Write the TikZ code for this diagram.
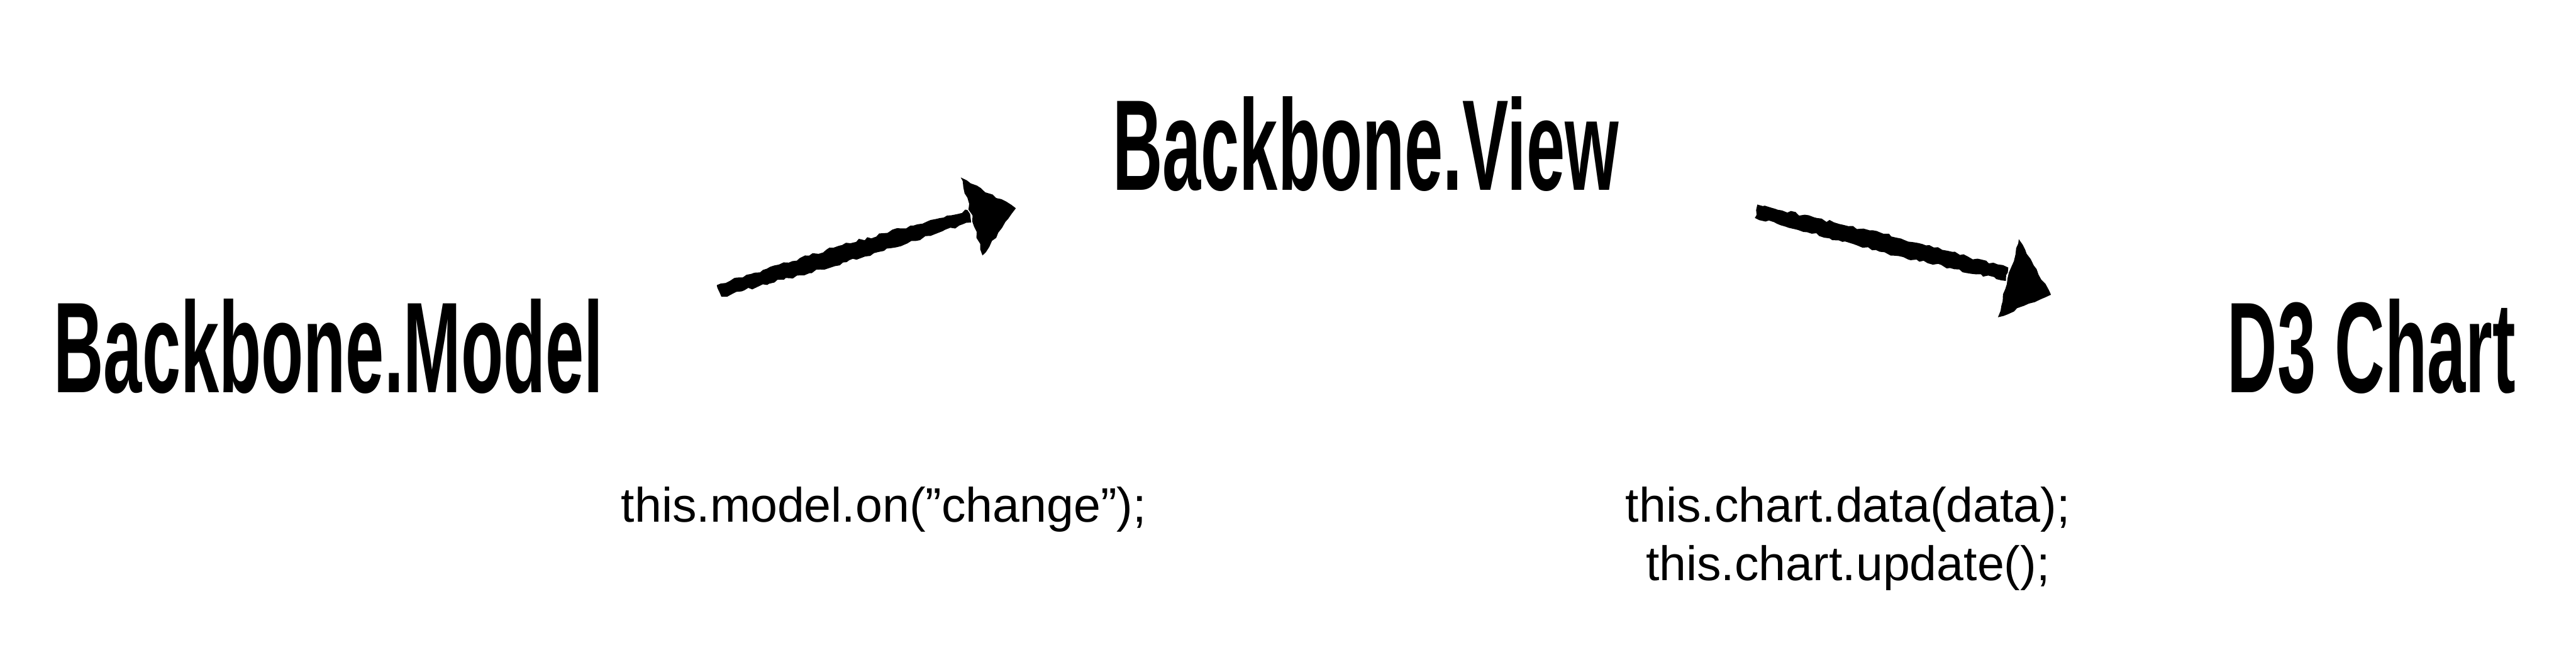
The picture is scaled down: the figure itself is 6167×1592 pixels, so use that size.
\documentclass[tikz,border=0pt]{standalone}
\usepackage{fontspec}
\setmainfont{Liberation Sans}
\newfontfamily\headfont{Liberation Sans}[FakeStretch=0.535]
\usetikzlibrary{decorations.pathmorphing}
\tikzset{
  heading/.style={inner sep=0pt, anchor=base west, font=\headfont\bfseries\fontsize{88}{100}\selectfont},
  codetext/.style={inner sep=0pt, anchor=base, font=\fontsize{33}{40}\selectfont},
  chalk/.style={fill=black, decorate, decoration={random steps, segment length=3pt, amplitude=1pt}},
  chalkhead/.style={fill=black, decorate, decoration={random steps, segment length=4pt, amplitude=0.8pt}}
}
\begin{document}
\begin{tikzpicture}[x=0.01cm, y=-0.01cm]
\pgfmathsetseed{7}
\useasboundingbox (0,0) rectangle (6167,1592);
\fill[white] (0,0) rectangle (6167,1592);
% headings
\node[heading] (model) at (128,940) {Backbone.Model};
\node[heading] (view) at (2663,455) {Backbone.View};
\node[heading] (chart) at (5332,940) {D3 Chart};
% code labels
\node[codetext] (code1) at (2116,1250) {this.model.on(”change”);};
\node[codetext] (code2a) at (4424,1250) {this.chart.data(data);};
\node[codetext] (code2b) at (4424,1390) {this.chart.update();};
% arrow 1: model -> view
\coordinate (a1tail) at (1722,697);
\coordinate (a1neck) at (2320,518);
\coordinate (a1tip) at (2432,499);
\fill[chalk] (1716,683) -- (2016,587) -- (2316,503) -- (2325,533) -- (2027,628) -- (1727,711) -- cycle;
\fill[chalkhead] (2300,425) -- (a1tip) -- (2352,612) -- cycle;
% arrow 2: view -> chart
\coordinate (a2tail) at (4204,506);
\coordinate (a2neck) at (4805,657);
\coordinate (a2tip) at (4910,706);
\fill[chalk] (4207,490) -- (4509,560) -- (4808,641) -- (4802,673) -- (4500,603) -- (4201,522) -- cycle;
\fill[chalkhead] (4833,573) -- (a2tip) -- (4783,760) -- cycle;
\end{tikzpicture}
\end{document}
